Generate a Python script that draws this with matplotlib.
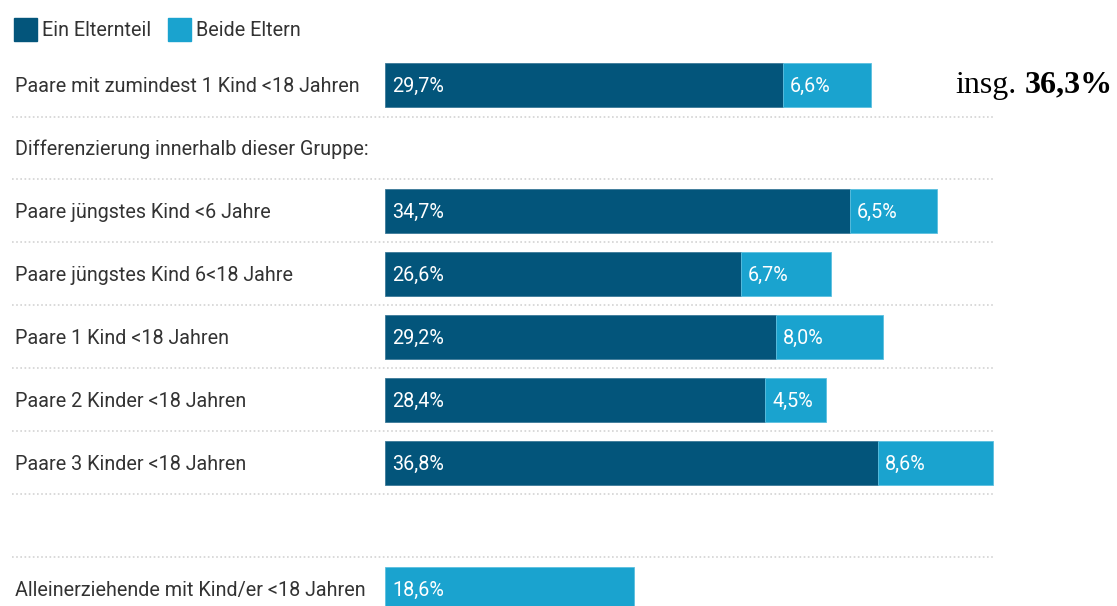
import matplotlib
matplotlib.use("Agg")
import matplotlib.pyplot as plt
from matplotlib.patches import Rectangle

categories = [
    "Paare mit zumindest 1 Kind <18 Jahren",
    "Paare jüngstes Kind <6 Jahre",
    "Paare jüngstes Kind 6<18 Jahre",
    "Paare 1 Kind <18 Jahren",
    "Paare 2 Kinder <18 Jahren",
    "Paare 3 Kinder <18 Jahren",
    "Alleinerziehende mit Kind/er <18 Jahren",
]
ein_elternteil = [29.7, 34.7, 26.6, 29.2, 28.4, 36.8, 0.0]
beide_eltern = [6.6, 6.5, 6.7, 8.0, 4.5, 8.6, 18.6]
series_names = ["Ein Elternteil", "Beide Eltern"]
subheading = "Differenzierung innerhalb dieser Gruppe:"
total_prefix = "insg."
total_value = "36,3%"

row_pos = [0, 2, 3, 4, 5, 6, 8]
sub_row = 1

C_DARK = "#03557b"
C_LIGHT = "#1aa3cf"
TXT = "#333333"

W, H = 1117, 606
fig = plt.figure(figsize=(W / 100, H / 100), dpi=100)
ax = fig.add_axes([0, 0, 1, 1])
ax.set_axis_off()

# pixel mapping
x0_px, px_per_pct = 385, 13.39
y0_px, px_per_row = 85, 63
ax.set_xlim(-x0_px / px_per_pct, (W - x0_px) / px_per_pct)
ax.set_ylim((H - y0_px) / px_per_row, -y0_px / px_per_row)

def xd(px):
    return (px - x0_px) / px_per_pct

def fmt(v):
    return f"{v:.1f}".replace(".", ",") + "%"

font = "Roboto"
fs = 14.2
yoff = 0.025

for y, e, b in zip(row_pos, ein_elternteil, beide_eltern):
    if e > 0:
        ax.barh(y, e, height=0.7, color=C_DARK, edgecolor="#3d7a99", linewidth=0.6)
        ax.text(xd(392), y + yoff, fmt(e), color="white", fontsize=fs,
                family=font, va="center", ha="left")
    ax.barh(y, b, left=e, height=0.7, color=C_LIGHT, edgecolor="#5cc0e0", linewidth=0.6)
    ax.text(e + 7 / px_per_pct, y + yoff, fmt(b), color="white", fontsize=fs,
            family=font, va="center", ha="left")

for y, cat in zip(row_pos, categories):
    ax.text(xd(15), y + yoff, cat, color=TXT, fontsize=fs, family=font,
            va="center", ha="left")
ax.text(xd(15), sub_row + yoff, subheading, color=TXT, fontsize=fs, family=font,
        va="center", ha="left")

# dotted separators
for i in range(8):
    ax.plot([xd(12), xd(993)], [i + 0.5, i + 0.5], color="#d3d3d3",
            linestyle=(0, (1, 1.5)), linewidth=1.2, solid_capstyle="butt")

# total annotation (right-aligned)
sfont = "Liberation Serif"
sfs = 23
t2 = ax.text(xd(1113), row_pos[0], total_value, fontsize=sfs, family=sfont,
             fontweight="bold", color="black", va="center", ha="right")
fig.canvas.draw()
bb = t2.get_window_extent()
ax.annotate(total_prefix, xy=(bb.x0 - 8, 0), xycoords=("figure pixels", "data"),
            fontsize=sfs, family=sfont, color="black", va="center", ha="right")
ax.texts[-1].set_y(row_pos[0])

# legend
for lx, c, name in [(14, C_DARK, series_names[0]), (168, C_LIGHT, series_names[1])]:
    fig.add_artist(Rectangle((lx / W, 1 - 41 / H), 23 / W, 23 / H,
                             transform=fig.transFigure, color=c))
    fig.text((lx + 28) / W, 1 - 30 / H, name, color=TXT, fontsize=fs,
             family=font, va="center", ha="left")

fig.savefig("out.png", dpi=100)
